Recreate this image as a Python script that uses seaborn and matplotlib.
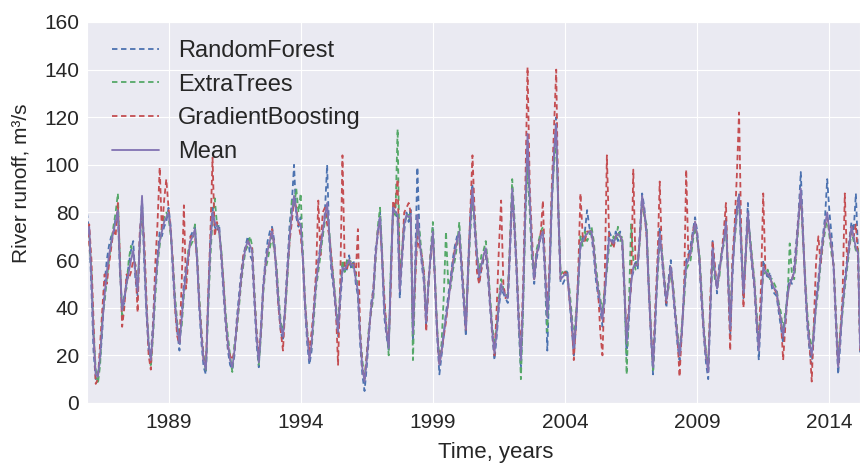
import pandas as pd
import matplotlib
matplotlib.use('Agg')
import matplotlib.pyplot as plt
import seaborn as sns

# monthly values, Dec 1985 .. Mar 2015 (one row = 12 months)
start_month = '1985-12-01'

mean_runoff = [
    70, 74, 52, 28, 12, 11, 20, 33, 45, 55, 62, 67,
    72, 76, 81, 58, 39, 44, 50, 55, 60, 64, 55, 47,
    68, 87, 62, 40, 25, 18, 30, 48, 60, 68, 72, 76,
    78, 80, 72, 58, 42, 32, 25, 35, 47, 55, 62, 68,
    70, 73, 60, 42, 28, 18, 14, 40, 65, 80, 76, 74,
    73, 62, 48, 35, 25, 18, 15, 22, 32, 42, 52, 60,
    65, 68, 66, 64, 45, 28, 17, 30, 48, 58, 64, 68,
    72, 66, 55, 42, 32, 28, 40, 55, 70, 80, 87, 80,
    76, 75, 60, 42, 28, 18, 25, 38, 50, 58, 65, 72,
    78, 84, 70, 58, 50, 40, 30, 45, 57, 56, 58, 60,
    58, 58, 52, 47, 28, 15, 9, 18, 30, 40, 46, 62,
    72, 78, 60, 39, 30, 23, 55, 82, 80, 79, 47, 62,
    75, 79, 78, 79, 29, 55, 79, 68, 60, 52, 34, 50,
    62, 72, 50, 30, 16, 22, 30, 36, 42, 50, 57, 63,
    68, 72, 58, 45, 31, 55, 75, 90, 75, 62, 53, 58,
    62, 65, 55, 42, 30, 21, 30, 42, 50, 47, 45, 44,
    65, 90, 75, 58, 35, 18, 45, 80, 113, 85, 65, 52,
    62, 66, 70, 72, 55, 36, 55, 85, 105, 117, 80, 52,
    53, 54, 54, 45, 35, 23, 35, 50, 67, 68, 70, 71,
    72, 72, 65, 55, 48, 42, 35, 45, 58, 69, 68, 67,
    70, 71, 70, 68, 48, 25, 38, 50, 57, 58, 58, 70,
    87, 80, 72, 50, 30, 15, 35, 55, 71, 62, 52, 43,
    50, 57, 48, 38, 28, 20, 30, 45, 58, 60, 63, 70,
    76, 70, 60, 45, 30, 20, 13, 40, 65, 55, 48, 55,
    62, 68, 76, 55, 31, 55, 70, 80, 87, 65, 46, 62,
    80, 68, 58, 50, 35, 22, 40, 57, 55, 54, 53, 50,
    48, 47, 40, 35, 28, 35, 45, 50, 52, 55, 65, 78,
    90, 70, 50, 35, 25, 20, 30, 42, 50, 60, 68, 75,
    80, 72, 65, 57, 35, 15, 28, 40, 50, 58, 66, 74,
    70, 65, 63, 23,
]

random_forest = [
    80, 72, 48, 22, 10, 12, 18, 30, 50, 60, 66, 70,
    70, 78, 80, 55, 40, 42, 52, 58, 64, 68, 52, 45,
    70, 86, 58, 38, 22, 20, 34, 52, 62, 72, 70, 74,
    76, 82, 74, 55, 40, 30, 22, 38, 50, 58, 60, 70,
    72, 74, 58, 40, 25, 15, 12, 42, 68, 82, 74, 72,
    75, 60, 45, 33, 22, 16, 14, 20, 35, 45, 55, 62,
    66, 70, 62, 60, 42, 25, 15, 32, 50, 60, 68, 72,
    74, 68, 52, 40, 30, 26, 42, 58, 75, 84, 100, 78,
    74, 78, 58, 40, 25, 16, 22, 40, 52, 60, 66, 70,
    80, 100, 68, 55, 48, 38, 28, 42, 55, 58, 56, 62,
    56, 60, 50, 45, 25, 12, 5, 15, 28, 42, 48, 65,
    70, 80, 58, 36, 28, 22, 58, 84, 82, 76, 44, 60,
    72, 80, 76, 82, 26, 58, 99, 70, 58, 50, 32, 52,
    60, 74, 48, 28, 12, 20, 28, 38, 45, 52, 60, 66,
    70, 70, 55, 42, 28, 58, 78, 92, 72, 60, 50, 56,
    60, 62, 52, 40, 28, 18, 28, 40, 48, 46, 44, 42,
    62, 88, 72, 55, 32, 14, 42, 82, 110, 82, 62, 50,
    60, 65, 70, 70, 52, 22, 52, 82, 102, 120, 78, 50,
    50, 52, 56, 44, 32, 20, 32, 52, 65, 70, 72, 81,
    74, 70, 62, 52, 45, 40, 32, 42, 60, 72, 70, 66,
    72, 68, 72, 66, 45, 20, 35, 52, 55, 60, 56, 72,
    88, 82, 70, 48, 28, 12, 32, 58, 74, 60, 50, 40,
    52, 60, 46, 36, 25, 18, 28, 48, 60, 62, 66, 72,
    78, 72, 58, 42, 28, 17, 10, 38, 68, 56, 46, 58,
    60, 70, 78, 52, 28, 52, 72, 82, 88, 62, 44, 64,
    84, 66, 56, 48, 32, 18, 38, 60, 56, 52, 55, 48,
    46, 45, 38, 32, 25, 33, 48, 52, 50, 58, 68, 80,
    97, 72, 48, 32, 22, 16, 28, 45, 52, 62, 70, 78,
    94, 80, 70, 55, 32, 12, 25, 42, 52, 60, 68, 76,
    72, 88, 62, 20,
]

extra_trees = [
    75, 70, 55, 30, 14, 8, 16, 36, 42, 52, 60, 68,
    74, 80, 88, 60, 35, 46, 48, 60, 66, 62, 58, 48,
    66, 84, 64, 42, 26, 15, 28, 44, 58, 66, 74, 78,
    80, 78, 70, 60, 45, 34, 28, 32, 45, 52, 64, 66,
    68, 75, 62, 45, 30, 20, 13, 38, 60, 78, 86, 75,
    72, 64, 50, 38, 28, 20, 13, 25, 30, 40, 50, 58,
    64, 66, 70, 66, 48, 30, 16, 28, 46, 56, 60, 65,
    70, 64, 58, 45, 34, 30, 38, 52, 68, 86, 82, 90,
    80, 88, 62, 44, 30, 20, 24, 35, 48, 55, 62, 70,
    76, 80, 72, 60, 52, 42, 32, 48, 60, 55, 60, 58,
    60, 56, 55, 48, 30, 18, 10, 20, 32, 38, 44, 60,
    74, 82, 62, 42, 32, 20, 60, 80, 78, 115, 50, 64,
    76, 78, 80, 76, 18, 52, 75, 72, 62, 55, 36, 48,
    64, 76, 52, 32, 18, 25, 45, 72, 50, 48, 55, 60,
    66, 76, 60, 48, 34, 52, 72, 84, 78, 64, 55, 62,
    64, 68, 58, 45, 32, 24, 32, 44, 52, 48, 46, 45,
    68, 94, 78, 60, 38, 10, 40, 76, 100, 80, 60, 54,
    64, 68, 72, 74, 58, 30, 55, 85, 100, 110, 82, 54,
    55, 56, 52, 48, 38, 26, 38, 48, 70, 66, 72, 68,
    70, 74, 68, 58, 50, 44, 38, 48, 55, 66, 66, 70,
    68, 74, 68, 70, 50, 12, 40, 75, 60, 56, 60, 68,
    86, 78, 75, 52, 32, 13, 38, 52, 68, 64, 54, 45,
    48, 55, 50, 40, 30, 22, 32, 42, 56, 58, 60, 68,
    74, 68, 62, 48, 32, 22, 15, 42, 62, 52, 50, 52,
    64, 66, 74, 58, 34, 58, 68, 78, 85, 68, 48, 60,
    78, 70, 60, 52, 38, 25, 42, 55, 54, 56, 52, 52,
    50, 48, 42, 38, 30, 38, 44, 67, 54, 52, 62, 76,
    88, 68, 52, 38, 28, 22, 32, 40, 48, 58, 66, 72,
    78, 70, 62, 58, 38, 18, 30, 38, 48, 56, 64, 72,
    68, 64, 65, 25,
]

gradient_boosting = [
    62, 75, 60, 35, 8, 10, 25, 40, 54, 50, 58, 65,
    72, 70, 84, 62, 32, 40, 54, 52, 55, 60, 58, 38,
    72, 80, 68, 45, 20, 14, 32, 58, 75, 99, 72, 85,
    94, 82, 72, 60, 40, 28, 25, 50, 83, 48, 60, 70,
    70, 70, 60, 42, 30, 18, 16, 44, 70, 103, 70, 76,
    72, 62, 50, 35, 24, 20, 18, 22, 32, 42, 52, 62,
    65, 68, 66, 65, 45, 30, 20, 30, 48, 58, 64, 68,
    73, 66, 55, 40, 30, 22, 40, 55, 68, 76, 86, 82,
    75, 70, 60, 42, 30, 22, 30, 40, 55, 85, 62, 80,
    82, 75, 70, 62, 50, 40, 16, 50, 104, 58, 56, 60,
    58, 59, 54, 73, 30, 15, 10, 20, 30, 40, 48, 62,
    72, 75, 60, 45, 30, 26, 50, 85, 82, 94, 50, 62,
    80, 82, 84, 80, 32, 50, 70, 65, 62, 54, 30, 50,
    62, 70, 50, 30, 16, 22, 28, 34, 42, 50, 58, 65,
    68, 68, 60, 45, 30, 55, 80, 104, 80, 55, 50, 56,
    62, 64, 55, 42, 30, 20, 40, 65, 85, 50, 44, 45,
    66, 88, 74, 58, 36, 22, 50, 90, 141, 90, 70, 52,
    62, 66, 72, 85, 55, 40, 58, 90, 115, 140, 80, 52,
    54, 55, 54, 44, 35, 18, 34, 55, 88, 70, 68, 72,
    72, 72, 65, 55, 48, 30, 20, 50, 104, 70, 68, 65,
    70, 71, 70, 68, 48, 28, 40, 48, 98, 58, 58, 70,
    85, 80, 70, 50, 30, 16, 40, 60, 93, 62, 52, 42,
    50, 57, 48, 38, 28, 11, 30, 45, 98, 60, 63, 72,
    76, 70, 60, 45, 30, 20, 14, 45, 68, 58, 48, 55,
    62, 72, 84, 55, 22, 60, 75, 95, 122, 70, 40, 62,
    78, 68, 58, 50, 35, 24, 50, 88, 55, 54, 53, 50,
    48, 46, 40, 35, 18, 32, 45, 50, 52, 55, 65, 78,
    88, 70, 50, 35, 25, 9, 35, 60, 70, 58, 68, 75,
    78, 72, 65, 57, 35, 15, 30, 45, 88, 60, 66, 74,
    70, 75, 60, 22,
]

tick_years = [1989, 1994, 1999, 2004, 2009, 2014]


def plot_runoff():
    sns.set_style('darkgrid')
    plt.rcParams['font.family'] = ['Liberation Sans', 'DejaVu Sans']

    dates = pd.date_range(start_month, periods=len(mean_runoff), freq='MS')
    # old seaborn "deep" colours
    colors = {'RandomForest': '#4C72B0', 'ExtraTrees': '#55A868',
              'GradientBoosting': '#C44E52', 'Mean': '#8172B2'}

    fig = plt.figure(figsize=(8.61, 4.68), dpi=100)
    ax = fig.add_axes([0.101, 0.139, 0.898, 0.814])

    models = [('RandomForest', random_forest),
              ('ExtraTrees', extra_trees),
              ('GradientBoosting', gradient_boosting)]
    for name, values in models:
        sns.lineplot(x=dates, y=values, ax=ax, label=name, color=colors[name],
                     linewidth=1.3, dashes=False, linestyle=(0, (3, 2)))
    sns.lineplot(x=dates, y=mean_runoff, ax=ax, label='Mean',
                 color=colors['Mean'], linewidth=1.3)

    ax.set_xlim(dates[0], dates[-1])
    ax.set_ylim(0, 160)
    ax.set_yticks(range(0, 161, 20))
    ax.set_xticks([pd.Timestamp(f'{y}-01-01') for y in tick_years])
    ax.set_xticklabels([str(y) for y in tick_years])
    ax.tick_params(labelsize=15)
    ax.tick_params(axis='y', pad=2)

    ax.set_xlabel('Time, years', fontsize=16)
    ax.set_ylabel('River runoff, m³/s', fontsize=15)
    ax.xaxis.set_label_coords(0.529, -0.103)
    ax.yaxis.set_label_coords(-0.073, 0.577)

    ax.legend(loc='upper left', bbox_to_anchor=(0.02, 0.978), fontsize=17,
              frameon=False, handlelength=2.0, handletextpad=0.8,
              labelspacing=0.5, borderaxespad=0)

    fig.savefig('out.png', dpi=100)


if __name__ == "__main__":
    plot_runoff()
